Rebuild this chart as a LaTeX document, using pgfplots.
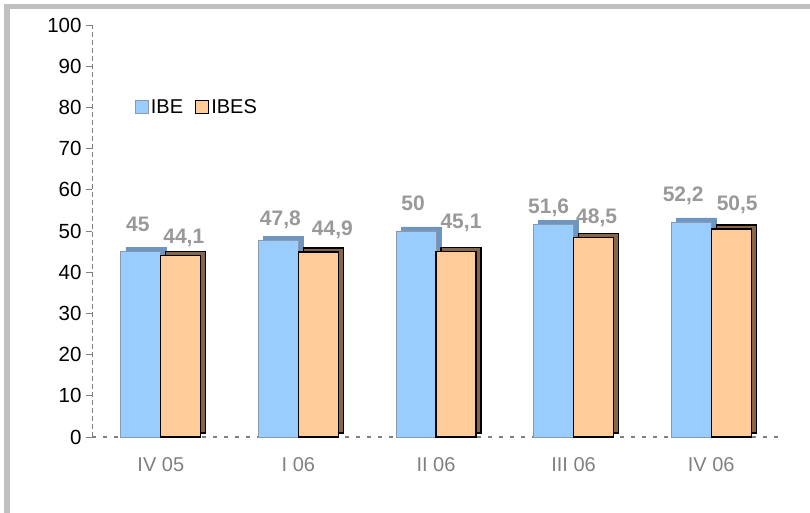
\documentclass[border=0pt]{standalone}
\usepackage{pgfplots}
\pgfplotsset{compat=1.18}
\usepackage{pgfplotstable}
\usepackage{fontspec}
\setmainfont{Liberation Sans}
\definecolor{ibefill}{HTML}{99CCFF}
\definecolor{ibeborder}{HTML}{8A9AAE}
\definecolor{ibeside}{HTML}{6F94BE}
\definecolor{ibesfill}{HTML}{FFCC99}
\definecolor{ibesside}{HTML}{86664A}
\definecolor{labgray}{HTML}{999999}
\definecolor{framegray}{HTML}{C0C0C0}
\pgfplotstableread{
x ibe dxa dya ibes dxb dyb
0 45   -3 27 44.1  3 17
1 47.8  2 20 44.9 14 22
2 50   -3 28 45.1  5 28
3 51.6 -5 17 48.5  3 19
4 52.2 -8 26 50.5  6 24
}\datatable
\begin{document}
\begin{tikzpicture}
\path[use as bounding box] (0,0) rectangle (810pt,513pt);
\fill[framegray] (4pt,504pt) rectangle (815pt,509pt);
\fill[framegray] (4pt,-5pt) rectangle (10pt,509pt);
\begin{axis}[
  at={(92pt,76pt)}, anchor=south west,
  scale only axis, width=688pt, height=412pt,
  xmin=-0.5, xmax=4.5, ymin=0, ymax=100,
  axis x line*=bottom, axis y line*=left,
  x axis line style={draw=gray, line width=2.5pt, dash pattern=on 4pt off 7pt},
  y axis line style={draw=gray, line width=0.6pt, dash pattern=on 5pt off 3pt},
  ytick={0,10,...,100},
  xtick={0,1,2,3,4},
  xticklabels={IV 05, I 06, II 06, III 06, IV 06},
  tick align=outside,
  major tick length=6pt,
  ytick style={draw=gray, line width=0.6pt},
  xtick style={draw=none},
  yticklabel style={font=\fontsize{20.5}{23}\selectfont, text=black, xshift=-1pt},
  xticklabel style={font=\fontsize{20}{23}\selectfont, text=gray, yshift=-11pt},
  /pgf/number format/assume math mode=true,
  legend style={at={(0.058,0.80)}, anchor=west, draw=none, fill=none,
    font=\fontsize{20}{22}\selectfont, legend columns=-1,
    /tikz/every even column/.append style={column sep=10pt}},
  clip=false,
]
% IBE shadow (3D depth)
\addplot[ybar, bar width=40pt, bar shift=-20pt, fill=ibeside, draw=ibeside, xshift=5pt, yshift=4pt, forget plot]
  table[x=x, y=ibe] {\datatable};
% IBE front
\addplot[ybar, bar width=40pt, bar shift=-20pt, fill=ibefill, draw=ibeborder, line width=0.8pt,
  legend image code/.code={\draw[fill=ibefill, draw=ibeborder, line width=0.8pt] (0pt,-6.5pt) rectangle (13pt,6.5pt);},
  visualization depends on={\thisrow{dxa}\as\mydx},
  visualization depends on={\thisrow{dya}\as\mydy},
  nodes near coords={\pgfmathprintnumber[use comma, fixed, precision=1]{\pgfplotspointmeta}},
  nodes near coords style={anchor=center, xshift=-20pt, xshift=\mydx pt, yshift=\mydy pt, text=labgray, font=\fontsize{21}{23}\selectfont\bfseries},
  ]
  table[x=x, y=ibe] {\datatable};
\addlegendentry{IBE}
% IBES shadow
\addplot[ybar, bar width=40pt, bar shift=20pt, fill=ibesside, draw=black, line width=1.2pt, xshift=5pt, yshift=4pt, forget plot]
  table[x=x, y=ibes] {\datatable};
% IBES front
\addplot[ybar, bar width=40pt, bar shift=20pt, fill=ibesfill, draw=black, line width=1.2pt,
  legend image code/.code={\draw[fill=ibesfill, draw=black, line width=1.2pt] (0pt,-6.5pt) rectangle (13pt,6.5pt);},
  visualization depends on={\thisrow{dxb}\as\mydx},
  visualization depends on={\thisrow{dyb}\as\mydy},
  nodes near coords={\pgfmathprintnumber[use comma, fixed, precision=1]{\pgfplotspointmeta}},
  nodes near coords style={anchor=center, xshift=20pt, xshift=\mydx pt, yshift=\mydy pt, text=labgray, font=\fontsize{21}{23}\selectfont\bfseries},
  ]
  table[x=x, y=ibes] {\datatable};
\addlegendentry{IBES}
\end{axis}
\end{tikzpicture}
\end{document}
